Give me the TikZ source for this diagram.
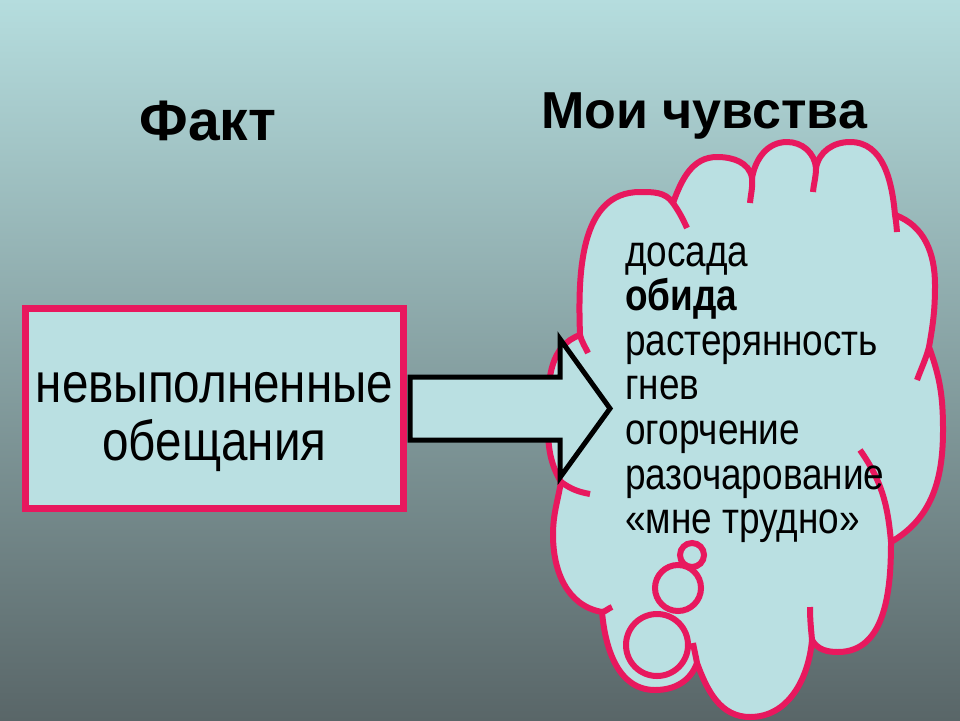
\documentclass[tikz,border=0pt]{standalone}
\usepackage{fontspec}
\setmainfont{Liberation Sans}
\newfontfamily\uzkiy[FakeStretch=0.84]{Liberation Sans}
\newfontfamily\uzkiyramka[FakeStretch=0.85]{Liberation Sans}
\usepackage{xcolor}
\usepackage{tikz}
\usetikzlibrary{arrows.meta, positioning, calc}
\definecolor{rozovy}{HTML}{E8185E}
\definecolor{goluboy}{HTML}{BAE0E2}
\definecolor{fonverh}{HTML}{B5DDDE}
\definecolor{fonsered}{HTML}{98B7B8}
\definecolor{fonniz}{HTML}{596668}
\tikzset{
  zagolovok/.style={font=\fontsize{52}{60}\selectfont\bfseries, anchor=base, inner sep=0pt},
  ramka/.style={draw=rozovy, fill=goluboy, line width=7pt, minimum width=378pt, minimum height=200pt,
              inner sep=0pt, align=center, font=\uzkiyramka\fontsize{56}{58}\selectfont},
  oblako/.style={draw=rozovy, fill=goluboy, line width=6pt, line join=round},
  hvost/.style={draw=rozovy, line width=6pt},
  puzyr/.style={circle, draw=rozovy, fill=goluboy, line width=6pt, inner sep=0pt},
  punkt/.style={anchor=base west, inner sep=0pt, font=\uzkiy\fontsize{44}{44}\selectfont},
  strelka/.style={draw=black, fill=goluboy, line width=5pt, line join=miter},
}

\begin{document}
\begin{tikzpicture}[x=1pt, y=1pt]
  \useasboundingbox (0,0) rectangle (960,-720);
  \shade[top color=fonverh, middle color=fonsered, bottom color=fonniz] (0,0) rectangle (960,-720);
  \node[zagolovok, font=\fontsize{57}{60}\selectfont\bfseries] (fakt) at (208,-140) {Факт};
  \node[zagolovok] (chuvstva) at (704,-128) {Мои чувства};
  \node[ramka] (obeshch) at (214.5,-408.5) {\rule{0pt}{57pt}невыполненные\\обещания};
  \coordinate (j11) at (580,-335);
  \coordinate (j1) at (673,-203);
  \coordinate (j2) at (752,-178);
  \coordinate (j3) at (816,-168);
  \coordinate (j4) at (895,-215);
  \coordinate (j5) at (929,-347);
  \coordinate (j6) at (891,-542);
  \coordinate (j7) at (812,-640);
  \coordinate (j8) at (697,-663);
  \coordinate (j9) at (602,-612);
  \coordinate (j10) at (561,-482);
  \draw[oblako] (j11) to[out=92,in=180] (640,-192) to[out=0,in=125] (j1)
    to[out=70,in=180] (717,-157) to[out=0,in=100] (j2)
    to[out=80,in=180] (787,-142) to[out=0,in=95] (j3)
    to[out=80,in=180] (850,-142) to[out=0,in=95] (j4)
    to[out=-20,in=90] (935,-285) to[out=-90,in=80] (j5)
    to[out=-70,in=90] (943,-430) to[out=-90,in=30] (j6)
    to[out=-90,in=0] (838,-652) to[out=180,in=-60] (j7)
    to[out=-95,in=0] (750,-717) to[out=180,in=-70] (j8)
    to[out=-110,in=0] (655,-690) to[out=180,in=-85] (j9)
    to[out=170,in=-90] (553,-535) to[out=90,in=-100] (j10)
    to[out=120,in=-90] (548,-410) to[out=90,in=200] (j11) -- cycle;
  \foreach \s/\o/\e/\n in {j11/-75/{588,-353}/115, j1/-55/{687,-228}/115, j2/-85/{750,-203}/85,
      j3/-90/{813,-192}/85, j4/-80/{897,-232}/95, j5/-105/{917,-380}/70, j6/95/{860,-450}/-55,
      j7/95/{810,-607}/-90, j8/100/{693,-643}/-80, j9/10/{612,-607}/200, j10/-35/{590,-494}/170}
    \draw[hvost] (\s) to[out=\o,in=\n] (\e);
  \node[puzyr, minimum size=62pt] (p3) at (657,-645) {};
  \node[puzyr, minimum size=46pt] (p2) at (678,-588) {};
  \node[puzyr, minimum size=24pt] (p1) at (692,-555) {};
  \foreach \slovo [count=\i from 0] in {досада,\textbf{обида},растерянность,гнев,огорчение,разочарование,«мне трудно»}
    \node[punkt] (chuv\i) at (625,-266-44.6*\i) {\slovo};
  \coordinate (ostriyo) at (610,-408.5);
  \draw[strelka] ([xshift=3pt,yshift=31.5pt]obeshch.east) -- ++(150,0) -- ++(0,38) -- (ostriyo)
    -- ++(-50,-69) -- ++(0,37.5) -- ++(-150,0) -- cycle;
\end{tikzpicture}
\end{document}
